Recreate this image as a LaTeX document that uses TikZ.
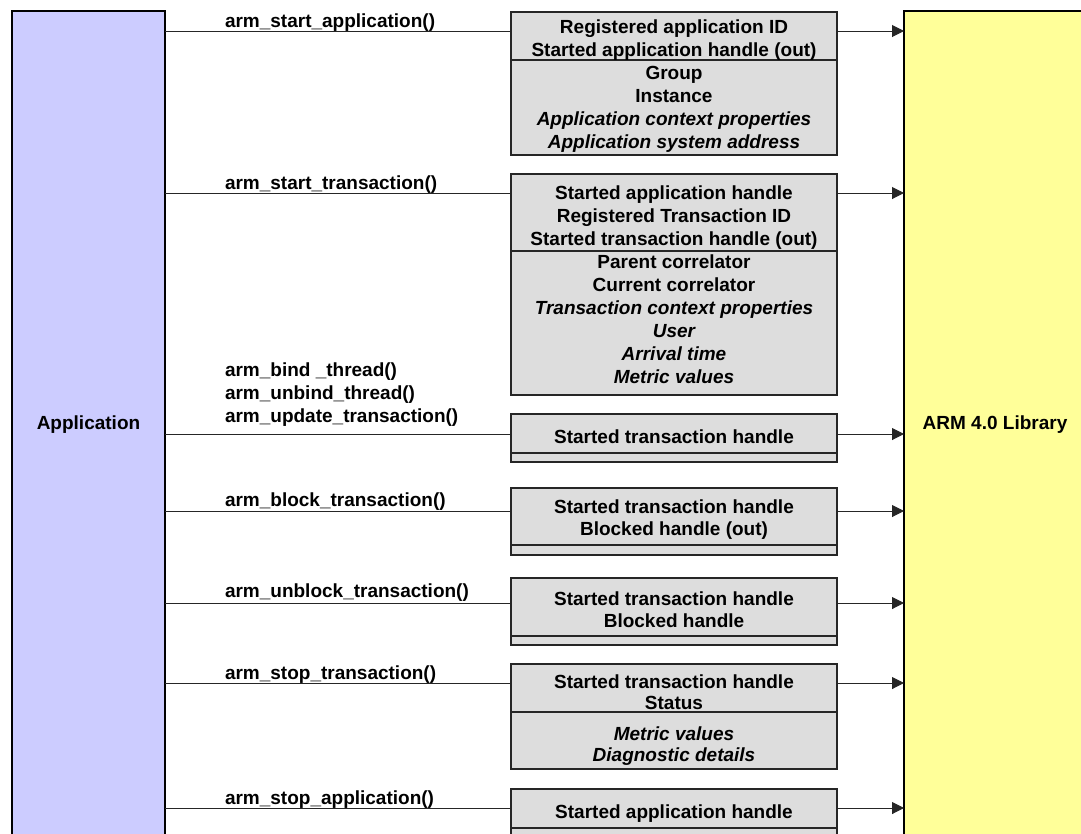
\documentclass[tikz,border=0pt]{standalone}
\usepackage{fontspec}
\setmainfont{Liberation Sans}
\usetikzlibrary{arrows.meta}
\definecolor{appfill}{HTML}{CCCCFF}
\definecolor{libfill}{HTML}{FFFF99}
\definecolor{boxfill}{HTML}{DDDDDD}
\begin{document}
\begin{tikzpicture}[x=1pt,y=-1pt,
  every node/.style={font=\fontsize{19}{23}\selectfont\bfseries, inner sep=0pt, outer sep=0pt},
  block/.style={draw=black, line width=1.2pt, rectangle, anchor=north west},
  sec/.style={draw=black!85, fill=boxfill, line width=1.2pt, rectangle,
              minimum width=326pt, anchor=north west},
  conn/.style={draw=black!85, line width=1pt},
  arr/.style={conn, -{Triangle[length=12pt,width=12pt]}},
  call/.style={anchor=base west},
  item/.style={anchor=base},
  em/.style={anchor=base, font=\fontsize{19}{23}\selectfont\bfseries\itshape}]

\useasboundingbox (0,0) rectangle (1081,833);
\clip (0,0) rectangle (1081,833);

% the two end points of every call
\node[block, fill=appfill, minimum width=153pt, minimum height=828pt] (app) at (12,11) {};
\node (apptxt) at (app.center) {Application};
\node[block, fill=libfill, minimum width=182pt, minimum height=828pt] (lib) at (904,11) {};
\node (libtxt) at (lib.center) {ARM 4.0 Library};

% parameter boxes: upper part (required), lower part (optional)
\node[sec, minimum height=48pt]  (b1a) at (511,12)  {};
\node[sec, minimum height=95pt]  (b1b) at (511,60)  {};
\node[sec, minimum height=77pt]  (b2a) at (511,174) {};
\node[sec, minimum height=144pt] (b2b) at (511,251) {};
\node[sec, minimum height=39pt]  (b3a) at (511,414) {};
\node[sec, minimum height=9pt]   (b3b) at (511,453) {};
\node[sec, minimum height=57pt]  (b4a) at (511,488) {};
\node[sec, minimum height=10pt]  (b4b) at (511,545) {};
\node[sec, minimum height=58pt]  (b5a) at (511,578) {};
\node[sec, minimum height=9pt]   (b5b) at (511,636) {};
\node[sec, minimum height=48pt]  (b6a) at (511,664) {};
\node[sec, minimum height=57pt]  (b6b) at (511,712) {};
\node[sec, minimum height=39pt]  (b7a) at (511,789) {};
\node[sec, minimum height=20pt]  (b7b) at (511,828) {};

% parameter names
\foreach \y/\s/\t [count=\k] in {
  33/item/Registered application ID,
  56/item/Started application handle (out),
  79/item/Group,
  102/item/Instance,
  125/em/Application context properties,
  148/em/Application system address,
  199/item/Started application handle,
  222/item/Registered Transaction ID,
  245/item/Started transaction handle (out),
  268/item/Parent correlator,
  291/item/Current correlator,
  314/em/Transaction context properties,
  337/em/User,
  360/em/Arrival time,
  383/em/Metric values,
  443/item/Started transaction handle,
  513/item/Started transaction handle,
  535/item/Blocked handle (out),
  605/item/Started transaction handle,
  627/item/Blocked handle,
  688/item/Started transaction handle,
  709/item/Status,
  740/em/Metric values,
  761/em/Diagnostic details,
  818/item/Started application handle}
  \node[\s] (p\k) at (674,\y) {\t};

% call names
\node[call] (c1)  at (225,27)  {arm\_start\_application()};
\node[call] (c2)  at (225,189) {arm\_start\_transaction()};
\node[call] (c3a) at (225,376) {arm\_bind \_thread()};
\node[call] (c3b) at (225,399) {arm\_unbind\_thread()};
\node[call] (c3c) at (225,422) {arm\_update\_transaction()};
\node[call] (c4)  at (225,506) {arm\_block\_transaction()};
\node[call] (c5)  at (225,597) {arm\_unblock\_transaction()};
\node[call] (c6)  at (225,679) {arm\_stop\_transaction()};
\node[call] (c7)  at (225,804) {arm\_stop\_application()};

% call rows: application -> parameters -> library
\foreach \r/\y in {1/31, 2/193, 3/434, 4/511, 5/603, 6/683, 7/808} {
  \coordinate (r\r) at (0,\y);
  \draw[conn] (app.east |- r\r) -- (b\r a.west |- r\r);
  \draw[arr]  (b\r a.east |- r\r) -- (lib.west |- r\r);
}
\end{tikzpicture}
\end{document}
